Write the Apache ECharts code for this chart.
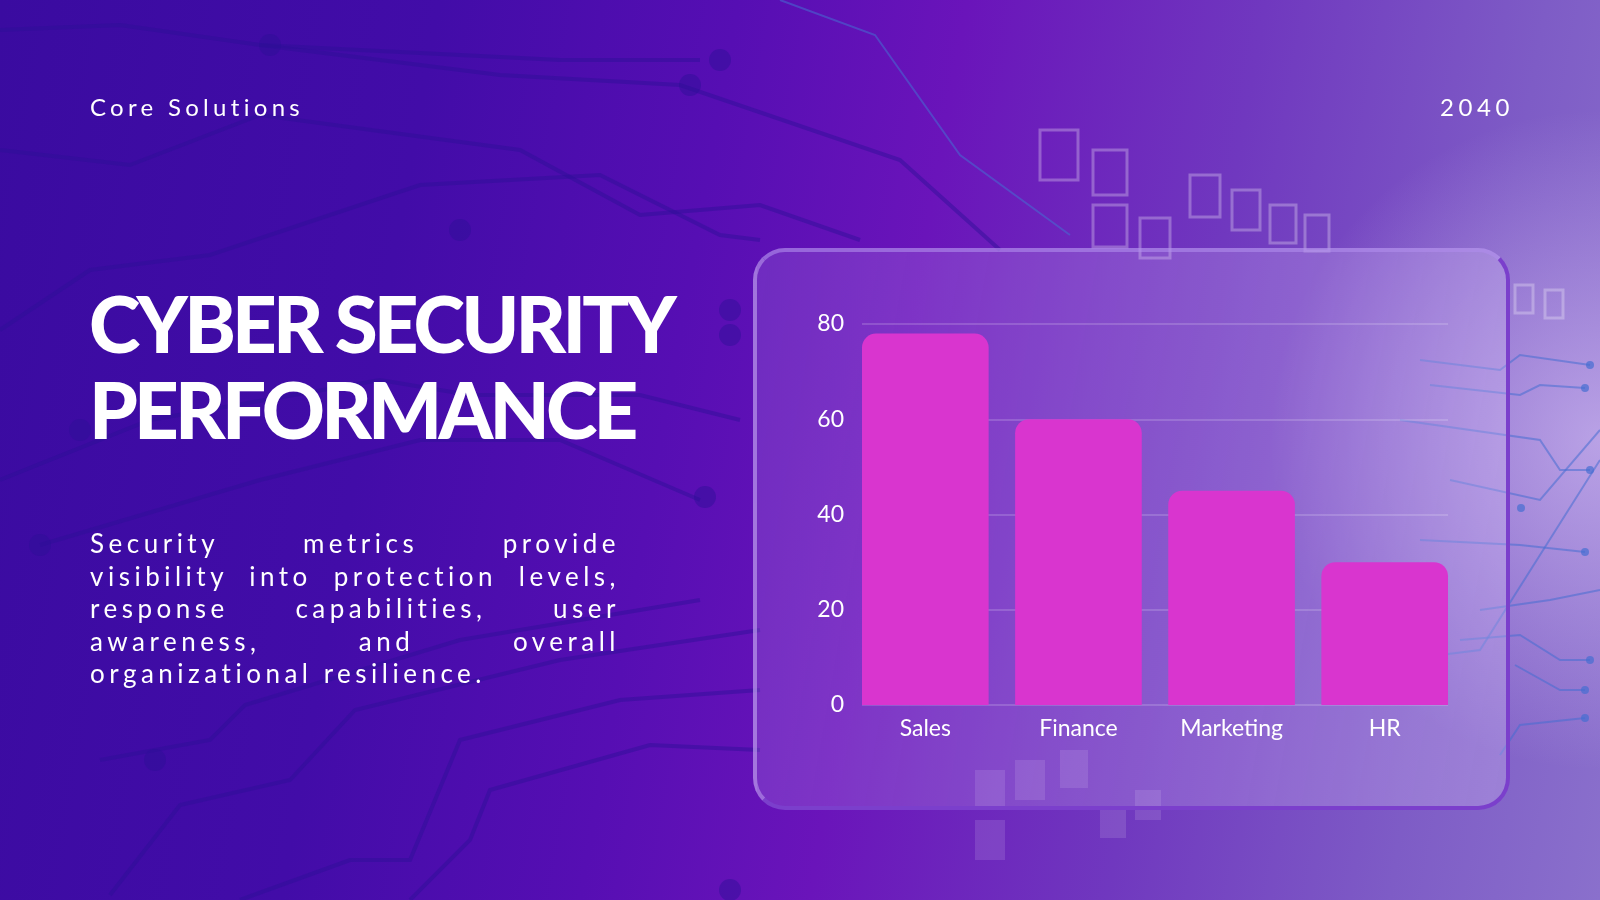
<!DOCTYPE html>
<html>
<head>
<meta charset="utf-8">
<script src="https://cdn.jsdelivr.net/npm/echarts@6/dist/echarts.min.js"></script>
<style>
  html, body { margin: 0; padding: 0; }
  #page {
    position: relative; width: 1600px; height: 900px; overflow: hidden;
    background:
      radial-gradient(ellipse 330px 330px at 1600px 440px, rgba(220,200,248,0.6), rgba(220,200,248,0) 100%),
      linear-gradient(100deg, #3a0ba0 0%, #420ca8 25%, #560eb3 42%, #6a14ba 55%, #7038bf 72%, #7e5cc6 88%, #8a70cc 100%);
  }
  #deco, #main { position: absolute; left: 0; top: 0; width: 1600px; height: 900px; }
  #panel {
    position: absolute; left: 753px; top: 248px; width: 749px; height: 554px;
    border-radius: 32px;
    background: linear-gradient(100deg, rgba(200,170,245,0.18), rgba(215,195,248,0.3));
    border: 4px solid #7b3fcc;
    border-left-color: rgba(190,160,240,0.55);
    border-top-color: rgba(175,140,235,0.6);
  }
  .txt { position: absolute; color: #fff; font-family: Lato, sans-serif; }
  #brand { left: 90px; top: 92px; font-size: 24px; letter-spacing: 4.3px; }
  #year { right: 86px; top: 92px; font-size: 24px; letter-spacing: 4.6px; }
  #title { left: 89px; top: 280px; font-size: 78px; font-weight: 900; line-height: 86px; letter-spacing: -3.8px; }
  #para { left: 90px; top: 527px; width: 530px; font-size: 26px; letter-spacing: 4.5px; line-height: 32.6px; text-align: justify; }
</style>
</head>
<body>
<div id="page">
  <div id="deco"></div>
  <div id="panel"></div>
  <div class="txt" id="brand">Core Solutions</div>
  <div class="txt" id="year">2040</div>
  <div class="txt" id="title">CYBER SECURITY<br>PERFORMANCE</div>
  <div class="txt" id="para">Security metrics provide visibility into protection levels, response capabilities, user awareness, and overall organizational resilience.</div>
  <div id="main"></div>
</div>
<script>
var categories = ['Sales', 'Finance', 'Marketing', 'HR'];
var values = [78, 60, 45, 30];
var yTicks = [0, 20, 40, 60, 80];

// decorative circuit traces in the background
var traces = [
  [[0, 30], [120, 25], [260, 45], [560, 60], [700, 60]],
  [[0, 150], [130, 165], [260, 115], [520, 150], [640, 215], [760, 205], [860, 240]],
  [[0, 330], [90, 270], [210, 255], [420, 185], [600, 175], [720, 235], [760, 240]],
  [[0, 480], [150, 420], [380, 380], [470, 395], [640, 395], [740, 420]],
  [[40, 545], [260, 480], [420, 440], [560, 440], [700, 500]],
  [[100, 760], [210, 740], [245, 705], [460, 640], [700, 600]],
  [[110, 895], [180, 805], [290, 780], [355, 710], [560, 660], [760, 630]],
  [[240, 900], [350, 860], [410, 860], [460, 740], [620, 700], [760, 690]],
  [[410, 900], [470, 840], [490, 790], [650, 745], [760, 750]],
  [[260, 45], [500, 75], [680, 85], [900, 160], [1000, 250]]
];
var blueTraces = [
  [[780, 0], [875, 35], [960, 155], [1070, 235]],
  [[1420, 360], [1500, 370], [1520, 355], [1590, 365]],
  [[1430, 385], [1520, 395], [1540, 385], [1585, 388]],
  [[1400, 420], [1540, 440], [1560, 470], [1590, 470]],
  [[1450, 480], [1540, 500], [1600, 430]],
  [[1420, 540], [1520, 545], [1585, 552]],
  [[1480, 610], [1550, 600], [1600, 590]],
  [[1460, 640], [1520, 635], [1560, 660], [1590, 660]],
  [[1400, 660], [1480, 650], [1600, 460]],
  [[1515, 665], [1560, 690], [1585, 690]],
  [[1500, 755], [1520, 725], [1585, 718]]
];
var dots = [[270, 45], [720, 60], [690, 85], [460, 230], [730, 310], [730, 335], [705, 497], [155, 760], [730, 890], [40, 545], [80, 430]];
var blueDots = [[1590, 365], [1585, 388], [1590, 470], [1585, 552], [1521, 508], [1585, 690], [1585, 718], [1590, 660]];
var boxes = [[1040, 130, 38, 50], [1093, 150, 34, 45], [1190, 175, 30, 42], [1232, 190, 28, 40], [1270, 205, 26, 38], [1305, 215, 24, 36], [1093, 205, 34, 42], [1140, 218, 30, 40], [1515, 285, 18, 28], [1545, 290, 18, 28], [975, 770, 30, 40], [1015, 760, 30, 40], [1060, 750, 28, 38], [1100, 810, 26, 28], [1135, 790, 26, 30], [975, 820, 30, 40]];

var deco = echarts.init(document.getElementById('deco'), null, { renderer: 'canvas' });
var decoGraphics = [];
traces.forEach(function (p) {
  decoGraphics.push({ type: 'polyline', shape: { points: p }, style: { stroke: 'rgba(45,15,150,0.45)', lineWidth: 4, fill: null } });
});
blueTraces.forEach(function (p) {
  decoGraphics.push({ type: 'polyline', shape: { points: p }, style: { stroke: 'rgba(70,110,210,0.55)', lineWidth: 2, fill: null } });
});
dots.forEach(function (d) {
  decoGraphics.push({ type: 'circle', shape: { cx: d[0], cy: d[1], r: 11 }, style: { fill: 'rgba(45,15,150,0.45)' } });
});
blueDots.forEach(function (d) {
  decoGraphics.push({ type: 'circle', shape: { cx: d[0], cy: d[1], r: 4 }, style: { fill: 'rgba(70,110,210,0.7)' } });
});
boxes.forEach(function (b, i) {
  decoGraphics.push({ type: 'rect', shape: { x: b[0], y: b[1], width: b[2], height: b[3] },
    style: i < 10 ? { stroke: 'rgba(255,255,255,0.28)', lineWidth: 3, fill: null } : { fill: 'rgba(255,255,255,0.12)' } });
});
deco.setOption({ graphic: decoGraphics });

var myChart = echarts.init(document.getElementById('main'));
var option = {
  grid: [
    { left: 848.75, right: 138.75, top: 324, bottom: 195 },
    { left: 862, right: 152, top: 324, bottom: 195 }
  ],
  xAxis: [{
    type: 'category',
    gridIndex: 0,
    data: categories,
    axisLine: { show: false },
    axisTick: { show: false },
    axisLabel: { color: '#ffffff', fontFamily: 'Lato', fontSize: 23, margin: 12 }
  }, {
    type: 'value',
    gridIndex: 1,
    show: false
  }],
  yAxis: [{
    type: 'value',
    gridIndex: 0,
    min: yTicks[0],
    max: yTicks[yTicks.length - 1],
    show: false
  }, {
    type: 'value',
    gridIndex: 1,
    min: yTicks[0],
    max: yTicks[yTicks.length - 1],
    interval: 20,
    axisLine: { show: false },
    axisTick: { show: false },
    axisLabel: { color: '#ffffff', fontFamily: 'Lato', fontSize: 23, margin: 18 },
    splitLine: { lineStyle: { color: 'rgba(255,255,255,0.22)', width: 1.5 } }
  }],
  series: [{
    type: 'bar',
    xAxisIndex: 0,
    yAxisIndex: 0,
    data: values,
    barCategoryGap: '17.3%',
    itemStyle: { color: '#d935cf', borderRadius: [14, 14, 0, 0] }
  }]
};
myChart.setOption(option);
</script>
</body>
</html>
